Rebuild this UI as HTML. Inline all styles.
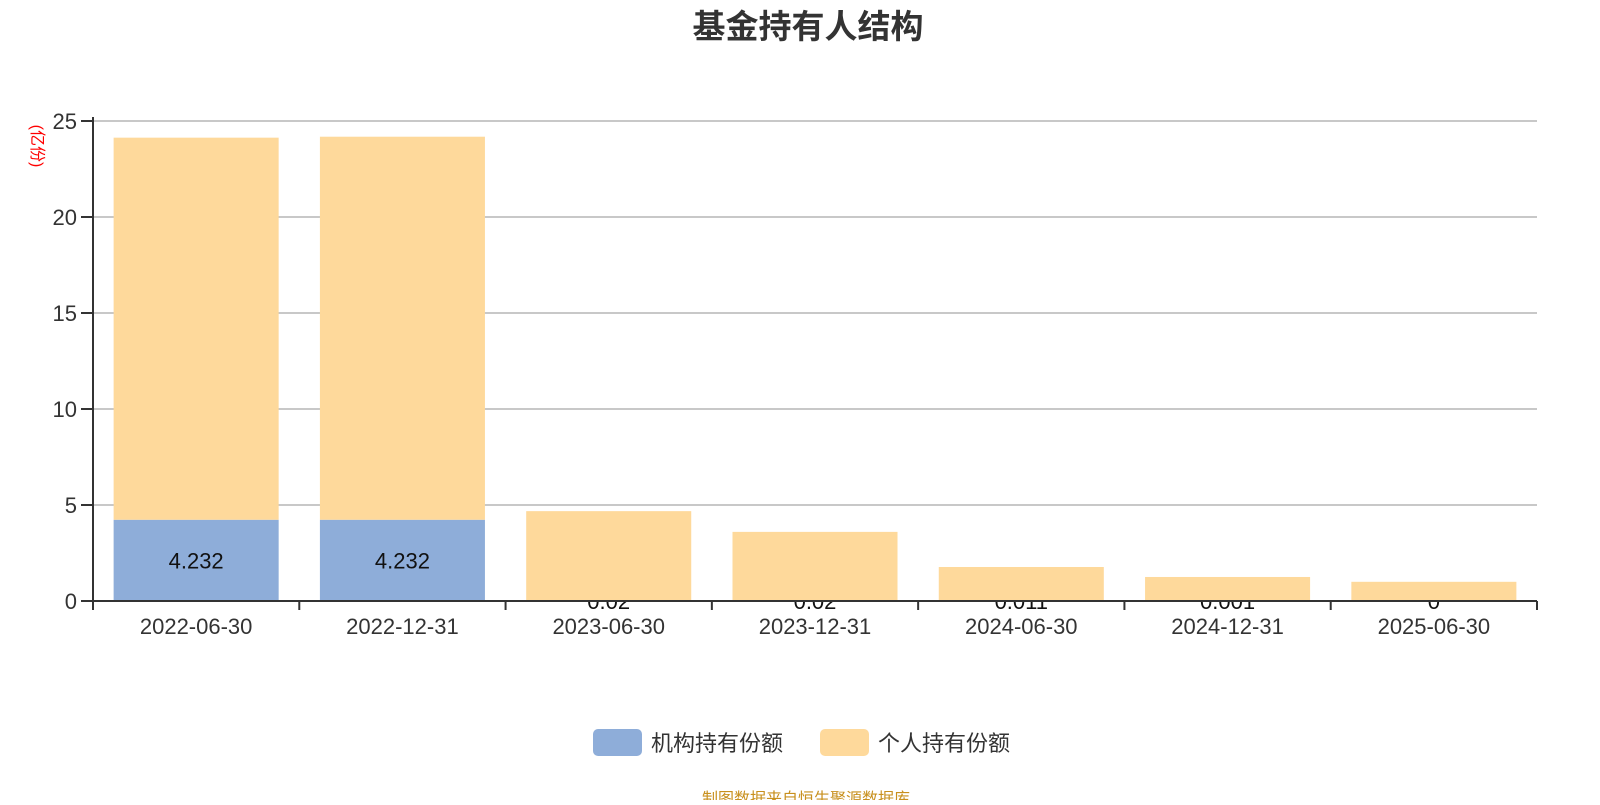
<!DOCTYPE html>
<html><head><meta charset="utf-8"><style>
body{margin:0;background:#fff;}
svg text{font-family:"Liberation Sans","Noto Sans CJK SC",sans-serif;}
</style></head><body>
<svg id="chart" width="1600" height="800" xmlns="http://www.w3.org/2000/svg">
<text x="808" y="38" text-anchor="middle" font-size="33" font-weight="bold" fill="#333">基金持有人结构</text>
<text transform="translate(32,146) rotate(90)" text-anchor="middle" font-size="16" fill="#ff0000">(亿份)</text>
<g id="grid"></g><g id="labels"></g><g id="bars"></g><g id="axes"></g>
<g>
<rect x="593" y="729" width="49" height="27" rx="5" fill="#8eadd9"/>
<text x="651" y="751" font-size="22" fill="#333">机构持有份额</text>
<rect x="820" y="729" width="49" height="27" rx="5" fill="#fed99b"/>
<text x="878" y="751" font-size="22" fill="#333">个人持有份额</text>
</g>
<text x="806" y="804" text-anchor="middle" font-size="16" fill="#c8901e">制图数据来自恒生聚源数据库</text>
</svg>
<script>
const categories=["2022-06-30","2022-12-31","2023-06-30","2023-12-31","2024-06-30","2024-12-31","2025-06-30"];
const institutional=[4.232,4.232,0.02,0.02,0.011,0.001,0];
const individual=[19.9,19.95,4.66,3.58,1.76,1.25,1.0];
const instLabels=["4.232","4.232","0.02","0.02","0.011","0.001","0"];
const yTicks=[0,5,10,15,20,25];
const NS="http://www.w3.org/2000/svg";
const x0=93,x1=1537,yBase=601,yTop=121,yMax=25;
const y=v=>yBase-(v/yMax)*(yBase-yTop);
const bw=(x1-x0)/categories.length;
function mk(tag,attrs,parent){const e=document.createElementNS(NS,tag);for(const k in attrs)e.setAttribute(k,attrs[k]);parent.appendChild(e);return e;}
const grid=document.getElementById('grid'),axes=document.getElementById('axes'),bars=document.getElementById('bars'),labels=document.getElementById('labels');
yTicks.forEach(t=>{
  if(t>0){const g=mk('line',{x1:x0,x2:x1,y1:y(t),y2:y(t),stroke:'#c8c8c8','stroke-width':2},grid);
  
  }
  const tk=mk('line',{x1:x0-12,x2:x0,y1:y(t),y2:y(t),stroke:'#333','stroke-width':2},axes);
  
  
  const tx=mk('text',{x:x0-16,y:y(t)+8,'text-anchor':'end','font-size':22,fill:'#333'},axes);
  tx.textContent=t;
  
  
});
const ya=mk('line',{x1:x0,x2:x0,y1:yTop-4,y2:yBase,stroke:'#333','stroke-width':2},axes);


const xa=mk('line',{x1:x0,x2:x1,y1:yBase,y2:yBase,stroke:'#333','stroke-width':2},axes);


for(let i=0;i<=categories.length;i++){
  const xt=mk('line',{x1:x0+i*bw,x2:x0+i*bw,y1:yBase,y2:yBase+9,stroke:'#333','stroke-width':2},axes);
  
  
}
categories.forEach((c,i)=>{
  const cx=x0+(i+0.5)*bw,w=bw*0.8,bx=cx-w/2;
  const lbl=mk('text',{x:cx,y:(institutional[i]>1?y(institutional[i]/2):yBase)+8,'text-anchor':'middle','font-size':22,fill:'#111'},institutional[i]>1?axes:labels);
  lbl.textContent=instLabels[i];
  
  
  const b1=mk('rect',{x:bx,width:w,y:y(institutional[i]),height:yBase-y(institutional[i]),fill:'#8eadd9'},bars);
  
  
  const tot=institutional[i]+individual[i];
  const b2=mk('rect',{x:bx,width:w,y:y(tot),height:y(institutional[i])-y(tot),fill:'#fed99b'},bars);
  
  
  const xl=mk('text',{x:cx,y:yBase+33,'text-anchor':'middle','font-size':22,fill:'#333'},axes);
  xl.textContent=c;
  
  
});
</script>
</body></html>
